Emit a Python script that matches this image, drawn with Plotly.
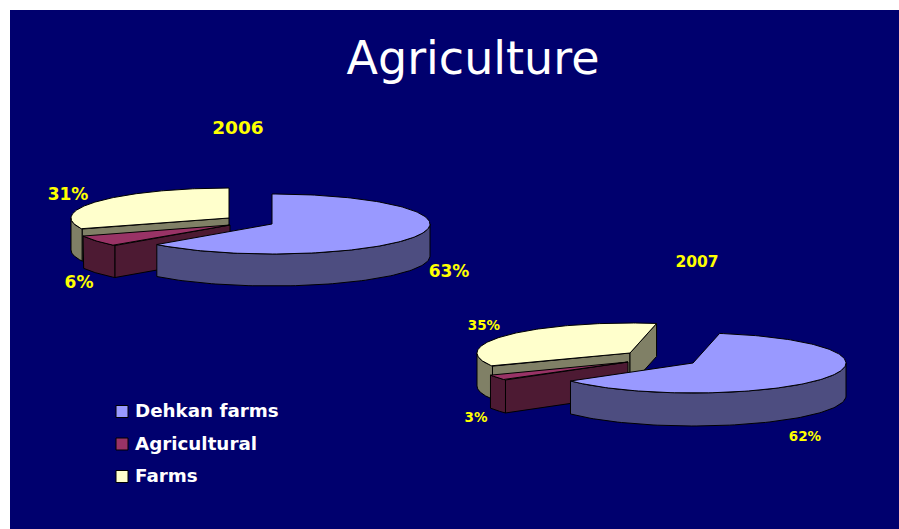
import numpy as np
import plotly.graph_objects as go

# Chart data
categories = ["Dehkan farms", "Agricultural", "Farms"]
years = ["2006", "2007"]
values_2006 = [63, 6, 31]
values_2007 = [62, 3, 35]

# Palette
NAVY = "#00006E"
TOP = ["#9999FF", "#993366", "#FFFFCC"]
WALL = ["#4D4D80", "#4D1A33", "#808066"]
YELLOW = "#FFFF00"
LABEL_FONT = "DejaVu Sans"

# Layout of each exploded pie: apex of every wedge on the page, ellipse radii, thickness
PIES = [
    dict(values=values_2006, start=0, rx=158, ry=30, depth=32,
         apex=[(272, 224), (230, 225), (229, 218)]),
    dict(values=values_2007, start=10, rx=153, ry=30, depth=33,
         apex=[(693, 363), (628, 362), (630, 353)]),
]


def polygon(fig, xs, ys, color):
    fig.add_trace(go.Scatter(
        x=xs, y=ys, mode="lines", fill="toself", fillcolor=color,
        line=dict(color="black", width=1), hoverinfo="skip", showlegend=False,
    ))


def wedge(fig, apex, a, b, pie, top, wall):
    """Draw one wedge between clockwise angles a and b (degrees from 12 o'clock)."""
    cx, cy = apex
    rx, ry, d = pie["rx"], pie["ry"], pie["depth"]

    def pt(t):
        r = np.radians(t)
        return cx + rx * np.sin(r), cy - ry * np.cos(r)

    # Cut faces that turn towards the viewer
    if np.sin(np.radians(a)) < -1e-9:
        x, y = pt(a)
        polygon(fig, [cx, x, x, cx, cx], [cy, y, y + d, cy + d, cy], wall)
    if np.sin(np.radians(b)) > 1e-9:
        x, y = pt(b)
        polygon(fig, [cx, x, x, cx, cx], [cy, y, y + d, cy + d, cy], wall)

    # Outer rim, only the stretch on the front half of the ellipse
    lo, hi = max(a, 90), min(b, 270)
    if hi > lo:
        ts = np.linspace(lo, hi, 80)
        xs, ys = pt(ts)
        polygon(fig,
                np.r_[xs, xs[::-1], xs[0]],
                np.r_[ys, ys[::-1] + d, ys[0]], wall)

    # Top face
    ts = np.linspace(a, b, 160)
    xs, ys = pt(ts)
    polygon(fig, np.r_[cx, xs, cx], np.r_[cy, ys, cy], top)


fig = go.Figure()

for pie in PIES:
    edges = pie["start"] + np.r_[0, np.cumsum(pie["values"])] * 3.6
    # Back wedge first, front wedge last
    for i in (2, 1, 0):
        wedge(fig, pie["apex"][i], edges[i], edges[i + 1], pie, TOP[i], WALL[i])


def text(fig, xs, ys, labels, size, color, family=LABEL_FONT, bold=True, pos="middle center"):
    fig.add_trace(go.Scatter(
        x=xs, y=ys, mode="text", text=labels, textposition=pos,
        textfont=dict(size=size, color=color, family=family, weight="bold" if bold else "normal"),
        hoverinfo="skip", showlegend=False,
    ))


# Title and year captions
text(fig, [473], [62], ["Agriculture"], 46, "white", bold=False)
text(fig, [238], [129], [years[0]], 18.5, YELLOW)
text(fig, [697], [263], [years[1]], 15.5, YELLOW)

# Percentage labels
text(fig, [449, 79, 68], [273, 284, 196], [f"{v}%" for v in values_2006], 17, YELLOW)
text(fig, [805, 476, 484], [438, 419, 327], [f"{v}%" for v in values_2007], 13.5, YELLOW)

# Legend
legend_y = [411.5, 444, 476.5]
fig.add_trace(go.Scatter(
    x=[122] * 3, y=legend_y, mode="markers",
    marker=dict(symbol="square", size=12, color=TOP, line=dict(color="black", width=1)),
    hoverinfo="skip", showlegend=False,
))
text(fig, [135] * 3, [y + 1 for y in legend_y], categories, 18.3, "white", pos="middle right")

fig.update_layout(
    width=899, height=529, autosize=False,
    margin=dict(l=0, r=0, t=0, b=0),
    paper_bgcolor="white", plot_bgcolor="white",
    xaxis=dict(range=[0, 899], visible=False, fixedrange=True),
    yaxis=dict(range=[529, 0], visible=False, fixedrange=True),
    shapes=[dict(type="rect", xref="x", yref="y", x0=10, y0=10, x1=899, y1=529,
                 fillcolor=NAVY, line=dict(width=0), layer="below")],
    showlegend=False,
)

fig.write_html("out.html", config=dict(displayModeBar=False))
